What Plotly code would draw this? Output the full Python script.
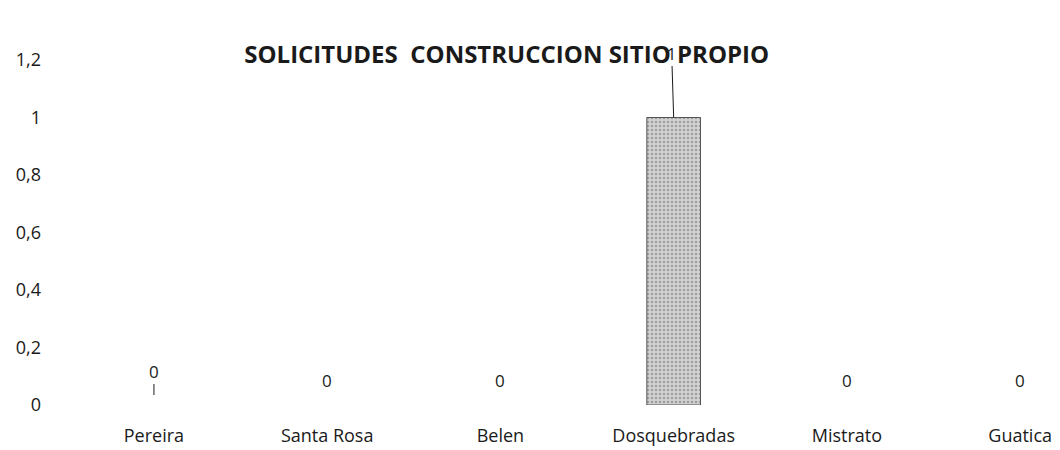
import plotly.graph_objects as go

categories = ["Pereira", "Santa Rosa", "Belen", "Dosquebradas", "Mistrato", "Guatica"]
values = [0, 0, 0, 1, 0, 0]
y_ticks = [0, 0.2, 0.4, 0.6, 0.8, 1, 1.2]
title_text = "SOLICITUDES  CONSTRUCCION SITIO PROPIO"

FONT = "Open Sans"
TXT = "#1a1a1a"

fig = go.Figure()
fig.add_trace(go.Bar(
    x=categories, y=values, width=0.31,
    marker=dict(
        color="#cfcfcf",
        line=dict(color="#555555", width=[1 if v > 0 else 0 for v in values]),
        pattern=dict(shape=".", fgcolor="#6a6a6a", bgcolor="#d2d2d2", size=4, solidity=0.35),
    ),
    showlegend=False, hoverinfo="skip",
))

annotations = []
for i, (c, v) in enumerate(zip(categories, values)):
    if v > 0:
        annotations.append(dict(x=c, y=v, xref="x", yref="y", text=str(v), showarrow=True,
                                ax=-2, ay=-64, arrowhead=0, arrowwidth=1, arrowcolor=TXT,
                                font=dict(family=FONT, size=16, color=TXT)))
    elif i == 0:
        annotations.append(dict(x=c, y=v, xref="x", yref="y", text=str(v), showarrow=True,
                                ax=0, ay=-34, standoff=10, arrowhead=0, arrowwidth=1, arrowcolor=TXT,
                                font=dict(family=FONT, size=17, color=TXT)))
    else:
        annotations.append(dict(x=c, y=v, xref="x", yref="y", text=str(v), showarrow=False,
                                yshift=25, font=dict(family=FONT, size=17, color=TXT)))

fig.update_layout(
    width=1060, height=450,
    margin=dict(l=50, r=0, t=60, b=45, autoexpand=False),
    paper_bgcolor="white", plot_bgcolor="white",
    separators=", ",
    title=dict(text=f"<b>{title_text}</b>", x=0.478, xanchor="center", y=1 - 55 / 450,
               yanchor="middle", font=dict(family=FONT, size=24, color=TXT)),
    xaxis=dict(range=[-0.6, 5.23], showgrid=False, showline=False, zeroline=False,
               automargin=False, ticks="", ticklabelstandoff=18,
               tickfont=dict(family=FONT, size=18, color=TXT)),
    yaxis=dict(range=[0, 1.2], tickvals=y_ticks, showgrid=False, showline=False, zeroline=False,
               automargin=False, ticks="", ticklabelstandoff=8, tickformat=",.1~f",
               tickfont=dict(family=FONT, size=18, color=TXT)),
    annotations=annotations,
)

fig.write_html("out.html", config={"displayModeBar": False},
               post_script="document.body.style.margin='0';document.body.style.overflow='hidden';")
